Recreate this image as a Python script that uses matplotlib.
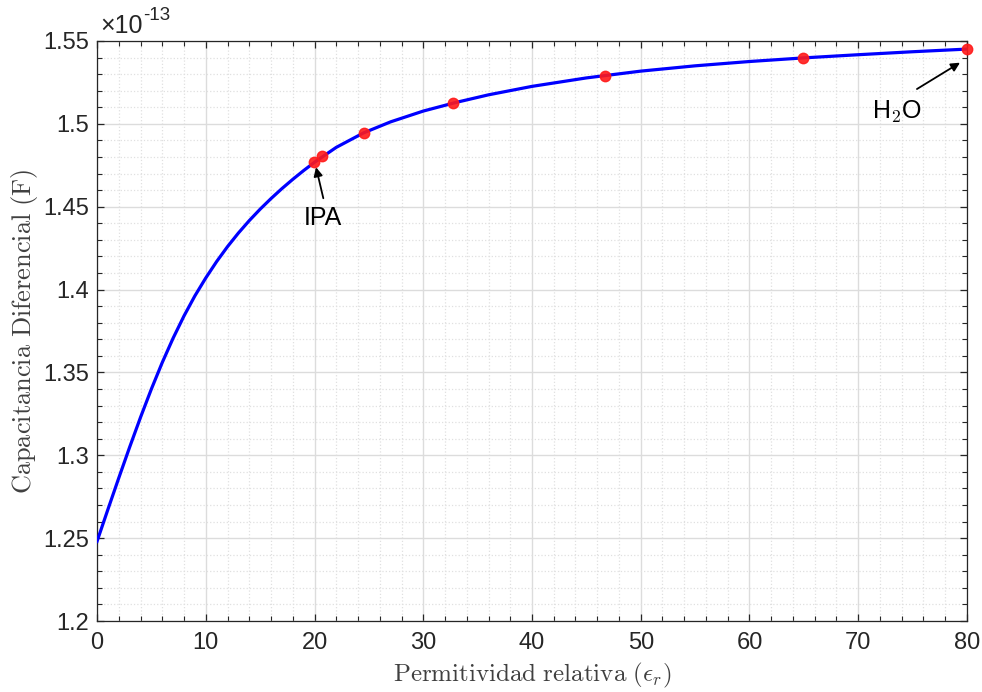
import numpy as np
import matplotlib
matplotlib.use('Agg')
import matplotlib.pyplot as plt
from matplotlib.ticker import MultipleLocator, FuncFormatter

# simulated curve: relative permittivity vs differential capacitance (x1e-13 F)
eps_curve = [0, 1, 2, 3, 4, 5, 6, 7, 8, 9, 10, 11, 12, 13, 14, 15, 16, 17,
             18, 19, 20, 22, 24.5, 27, 30, 33, 36, 40, 45, 50, 55, 60, 65,
             70, 75, 80]
cap_curve = [1.248, 1.2673, 1.2863, 1.3049, 1.3229, 1.3400, 1.3560, 1.3707,
             1.3841, 1.3962, 1.4070, 1.4169, 1.4259, 1.4341, 1.4416, 1.4485,
             1.4549, 1.4609, 1.4665, 1.4718, 1.4768, 1.4858, 1.4945, 1.5012,
             1.5077, 1.5129, 1.5175, 1.5226, 1.5277, 1.5318, 1.5350, 1.5376,
             1.5398, 1.5417, 1.5435, 1.5451]

# solvents measured
eps_pts = [19.95, 20.7, 24.55, 32.7, 46.7, 64.9, 80]
cap_pts = [1.4768, 1.4804, 1.4945, 1.5126, 1.5289, 1.5397, 1.5451]

xticks = np.arange(0, 81, 10)
yticks = [1.2, 1.25, 1.3, 1.35, 1.4, 1.45, 1.5, 1.55]

plt.rcParams['mathtext.fontset'] = 'cm'
fig = plt.figure(figsize=(9.82, 6.92), dpi=100)
ax = fig.add_axes([0.0988, 0.1026, 0.8859, 0.8382])

ax.plot(eps_curve, cap_curve, color='#0000ff', lw=2.3, zorder=3)
ax.plot(eps_pts, cap_pts, 'o', color='#ff1a1a', ms=7.5, mec='#ff1a1a',
        alpha=0.9, zorder=4, clip_on=False)

ax.set_xlim(0, 80)
ax.set_ylim(1.2, 1.55)
ax.set_xticks(xticks)
ax.set_yticks(yticks)
ax.xaxis.set_minor_locator(MultipleLocator(2))
ax.yaxis.set_minor_locator(MultipleLocator(0.01))
ax.yaxis.set_major_formatter(FuncFormatter(lambda v, p: '%g' % round(v, 3)))

ax.grid(which='major', color='#dcdcdc', lw=1.0, ls='-')
ax.grid(which='minor', color='#e0e0e0', lw=0.9, ls=':')
ax.set_axisbelow(True)

ax.tick_params(which='both', direction='in', top=True, right=True,
               colors='#262626', labelsize=17)
ax.tick_params(which='major', length=5, width=0.9)
ax.tick_params(which='minor', length=3.5, width=0.8)
ax.tick_params(axis='x', pad=8)
ax.tick_params(axis='y', pad=6)
for lab in ax.get_xticklabels() + ax.get_yticklabels():
    lab.set_fontfamily('Liberation Sans')
for s in ax.spines.values():
    s.set_color('#262626')
    s.set_linewidth(0.9)

ax.set_xlabel(r'$\mathrm{Permitividad\ relativa\ (}\epsilon_r\mathrm{)}$',
              fontsize=18, color='#404040', labelpad=5)
ax.set_ylabel(r'$\mathrm{Capacitancia\ Diferencial\ (F)}$',
              fontsize=19, color='#404040', labelpad=2)

# exponent of the y axis
ax.annotate('\u00d710', xy=(0, 1), xycoords='axes fraction',
            xytext=(2, 2), textcoords='offset points', fontsize=18,
            family='Liberation Sans', color='#262626', ha='left', va='bottom')
ax.annotate('-13', xy=(0, 1), xycoords='axes fraction',
            xytext=(33, 12), textcoords='offset points', fontsize=13.5,
            family='Liberation Sans', color='#262626', ha='left', va='bottom')

arrow = dict(arrowstyle='-|>', color='black', lw=1.3, mutation_scale=13,
             shrinkA=0, shrinkB=0)
ax.annotate('', xy=(20.14, 1.4738), xytext=(20.81, 1.4551), arrowprops=arrow)
ax.text(20.81, 1.4431, 'IPA', fontsize=18, family='Liberation Sans',
        ha='center', va='center')
ax.annotate('', xy=(79.36, 1.5369), xytext=(75.4, 1.5210), arrowprops=arrow)
ax.text(73.56, 1.5073, r'H$_\mathsf{2}$O', fontsize=18,
        family='Liberation Sans', ha='center', va='center')

fig.savefig('out.png', dpi=100)
